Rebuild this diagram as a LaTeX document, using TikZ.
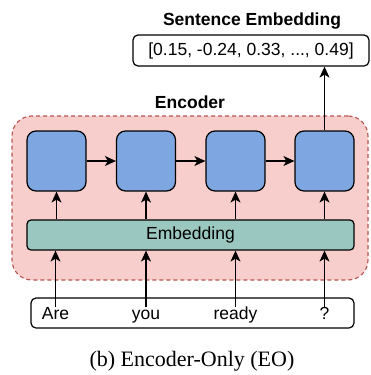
\documentclass[tikz,border=0pt]{standalone}
\usepackage{fontspec}
\setmainfont{Liberation Serif}
\setsansfont{Liberation Sans}
\usetikzlibrary{arrows.meta}
\definecolor{encfill}{HTML}{F8CECC}
\definecolor{encdraw}{HTML}{B85450}
\definecolor{blockfill}{HTML}{7EA6E0}
\definecolor{embfill}{HTML}{9AC7BF}
\tikzset{
  lbl/.style={font=\sffamily\fontsize{17.5}{20}\selectfont},
  boldlbl/.style={font=\sffamily\bfseries\fontsize{17.5}{20}\selectfont},
  block/.style={draw=black, line width=1.2pt, fill=blockfill, rounded corners=9pt,
    minimum width=59pt, minimum height=60pt, inner sep=0pt},
  wordnode/.style={lbl, inner sep=0pt, text height=12pt, text depth=4pt, anchor=base},
  arr/.style={line width=1.2pt, -{Stealth[length=11pt,width=10pt,inset=3pt]}},
}
\begin{document}
\begin{tikzpicture}[x=1pt, y=-1pt]
\useasboundingbox (0,0) rectangle (370,375);
% encoder container
\node[draw=encdraw, fill=encfill, dash pattern=on 4pt off 3pt, line width=1.1pt, rounded corners=20pt,
  minimum width=356pt, minimum height=164pt, inner sep=0pt] (enc) at (190,198) {};
\node[boldlbl, anchor=base] (enclbl) at (190,108.3) {Encoder};
% title and sentence box
\node[boldlbl, anchor=base] (title) at (252,25.5) {Sentence Embedding};
\node[lbl, draw=black, line width=1.2pt, fill=white, rounded corners=5pt,
  minimum width=236pt, minimum height=31pt, inner sep=0pt] (sent) at (251,50.5)
  {[0.15, -0.24, 0.33, ..., 0.49]};
% blocks
\node[block] (b1) at (56.5,161) {};
\node[block] (b2) at (146,161) {};
\node[block] (b3) at (235.5,161) {};
\node[block] (b4) at (324.5,161) {};
% embedding
\node[lbl, draw=black, line width=1.2pt, fill=embfill, rounded corners=4pt,
  minimum width=327pt, minimum height=30pt, inner sep=0pt] (emb) at (190.5,235) {Embedding};
% input
\node[draw=black, line width=1.2pt, fill=white, rounded corners=5pt,
  minimum width=323pt, minimum height=30pt, inner sep=0pt] (inp) at (192.5,313) {};
\node[wordnode] (w1) at (55.5,319.5) {Are};
\node[wordnode] (w2) at (146,319.5) {you};
\node[wordnode] (w3) at (235.5,319.5) {ready};
\node[wordnode] (w4) at (324.5,319.5) {?};
% arrows
\foreach \i/\b in {w1/b1,w2/b2,w3/b3,w4/b4}{
  \draw[arr] (\i.north) -- (\i.north |- emb.south);
  \draw[arr] (\b.south |- emb.north) -- (\b.south);
}
\draw[arr] (b1.east) -- (b2.west);
\draw[arr] (b2.east) -- (b3.west);
\draw[arr] (b3.east) -- (b4.west);
\draw[arr] (b4.north) -- (b4.north |- sent.south);
% caption
\node[font=\fontsize{22}{25}\selectfont, inner sep=0pt] (cap) at (192,361.5) {(b) Encoder-Only (EO)};
\end{tikzpicture}
\end{document}
